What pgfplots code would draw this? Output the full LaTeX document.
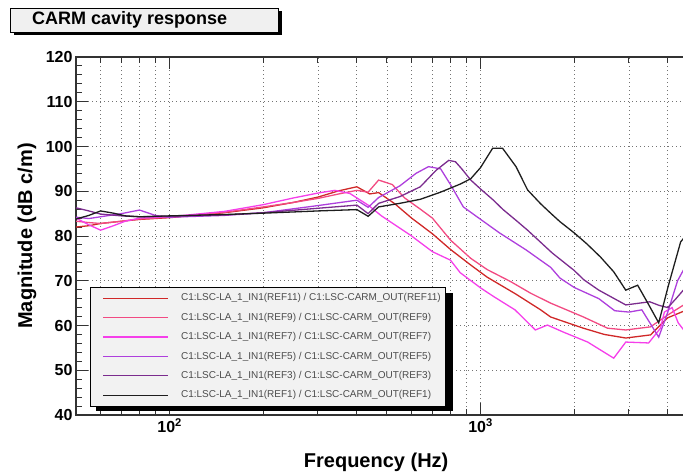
\documentclass[border=0pt]{standalone}
\usepackage{pgfplots}
\pgfplotsset{compat=1.18}
\usepackage{fontspec}
\setmainfont{Liberation Sans}
\usetikzlibrary{shadows}
\definecolor{cREF11}{HTML}{D02828}
\definecolor{cREF9}{HTML}{F24A82}
\definecolor{cREF7}{HTML}{F53FEA}
\definecolor{cREF5}{HTML}{AE3FDD}
\definecolor{cREF3}{HTML}{7B2C8E}
\definecolor{cREF1}{HTML}{1E1E1E}
\begin{document}
\begin{tikzpicture}
\begin{axis}[
  at={(0pt,0pt)}, anchor=south west,
  scale only axis, width=640pt, height=358pt,
  xmode=log, xmin=50, xmax=5716, ymin=40, ymax=120,
  xtick={100,1000}, xticklabels={10\textsuperscript{2},10\textsuperscript{3}},
  minor xtick={60,70,80,90,200,300,400,500,600,700,800,900,2000,3000,4000,5000},
  ytick={40,50,...,120}, yticklabels={40,50,60,70,80,90,100,110,120},
  minor ytick={42,44,...,118},
  ytick pos=left,
  xmajorgrids, xminorgrids, ymajorgrids,
  grid style={line width=0.9pt, black!55, dash pattern=on 1pt off 3pt},
  minor grid style={line width=0.9pt, black!55, dash pattern=on 1pt off 3pt},
  axis line style={line width=1.3pt, black!80},
  major tick length=12pt, minor tick length=6pt,
  every tick/.style={black!80, line width=1pt},
  tick label style={font=\bfseries\fontsize{16}{16}\selectfont},
  xlabel={Frequency (Hz)}, ylabel={Magnitude (dB c/m)},
  xlabel style={font=\bfseries\fontsize{20}{20}\selectfont, at={(axis description cs:0.469,-0.131)}, anchor=center},
  ylabel style={font=\bfseries\fontsize{20}{20}\selectfont, at={(axis description cs:-0.0766,0.5)}, anchor=center},
  every axis plot/.append style={line width=1.3pt, mark=none},
  legend cell align=left,
  legend image code/.code={\path[draw=none] (0pt,0pt) -- (73pt,0pt); \draw[#1, line width=1.3pt] (8pt,0pt) -- (73pt,0pt);},
  legend style={at={(axis description cs:0.0219,0.3575)}, anchor=north west,
    draw=black, line width=0.8pt, fill=black!5,
    font=\fontsize{10}{12}\selectfont, text=black!70,
    inner xsep=5pt, inner ysep=6pt, row sep=9.9pt,
    nodes={inner sep=0pt, text height=7.5pt, text depth=2pt},
    /tikz/every odd column/.append style={column sep=12pt}},
]
\addplot[cREF11] coordinates {(50,82.0)(55,82.3)(60,82.8)(70,83.3)(80,83.7)(100,84.1)(150,85.2)(200,86.3)(250,87.5)(300,88.7)(350,90.1)(400,91.0)(440,89.4)(470,89.7)(530,87.2)(600,84.0)(700,80.5)(800,77.0)(930,73.5)(1050,70.8)(1300,67.0)(1560,63.5)(1680,61.9)(2140,59.4)(2500,58.0)(2930,57.2)(3520,57.9)(3990,61.7)(4500,63.2)};
\addlegendentry{C1:LSC-LA\_1\_IN1(REF11) / C1:LSC-CARM\_OUT(REF11)}
\addplot[cREF9] coordinates {(50,83.3)(55,83.0)(60,82.8)(70,83.3)(80,83.8)(100,84.2)(150,85.3)(200,86.5)(250,87.5)(300,88.4)(350,89.4)(400,90.2)(435,89.8)(470,92.5)(520,91.5)(570,88.5)(640,86.0)(700,84.0)(800,79.1)(930,75.0)(1050,72.5)(1250,69.8)(1450,67.2)(1680,65.0)(2143,61.9)(2560,59.4)(2930,59.0)(3520,59.7)(3990,62.3)(4500,64.6)};
\addlegendentry{C1:LSC-LA\_1\_IN1(REF9) / C1:LSC-CARM\_OUT(REF9)}
\addplot[cREF7] coordinates {(50,84.0)(55,82.5)(60,81.3)(66,82.3)(72,83.3)(80,84.0)(100,84.3)(150,85.5)(200,87.0)(250,88.5)(300,89.6)(340,90.2)(380,89.5)(435,86.9)(480,84.5)(530,82.5)(600,80.0)(700,76.5)(800,74.6)(860,71.8)(1000,68.4)(1100,66.5)(1290,63.5)(1500,59.0)(1640,60.1)(1850,58.5)(2210,56.3)(2680,52.7)(2930,56.3)(3470,56.1)(3790,59.4)(3900,63.0)(4130,64.0)(4320,60.6)(4500,59.0)};
\addlegendentry{C1:LSC-LA\_1\_IN1(REF7) / C1:LSC-CARM\_OUT(REF7)}
\addplot[cREF5] coordinates {(50,84.2)(55,83.9)(60,84.3)(70,85.0)(80,85.8)(90,84.6)(100,84.2)(150,84.6)(200,85.2)(300,86.8)(400,88.0)(435,86.4)(470,88.6)(550,91.2)(620,94.0)(680,95.5)(744,95.0)(800,91.5)(880,86.5)(978,84.2)(1150,80.7)(1400,76.9)(1680,73.0)(1800,70.6)(2000,68.5)(2400,66.0)(2700,63.3)(3000,63.0)(3300,63.5)(3740,57.4)(4000,63.0)(4300,70.0)(4500,72.5)};
\addlegendentry{C1:LSC-LA\_1\_IN1(REF5) / C1:LSC-CARM\_OUT(REF5)}
\addplot[cREF3] coordinates {(50,86.3)(55,85.6)(60,84.9)(70,84.5)(80,84.3)(100,84.4)(150,84.7)(200,85.2)(300,86.2)(400,86.9)(435,85.0)(470,87.3)(550,88.8)(640,91.0)(720,94.7)(790,96.9)(830,96.6)(870,95.0)(930,92.5)(1000,90.5)(1100,88.0)(1177,86.0)(1300,83.5)(1416,81.3)(1700,76.2)(2000,72.3)(2150,70.2)(2400,67.9)(2930,64.6)(3500,65.3)(3750,64.5)(4000,64.0)(4250,66.0)(4500,68.0)};
\addlegendentry{C1:LSC-LA\_1\_IN1(REF3) / C1:LSC-CARM\_OUT(REF3)}
\addplot[cREF1] coordinates {(50,83.8)(55,84.6)(60,85.6)(66,85.1)(72,84.5)(80,84.3)(90,84.4)(100,84.5)(150,84.8)(200,85.1)(300,85.6)(400,85.9)(435,84.4)(470,86.5)(550,87.3)(640,88.2)(744,89.8)(860,91.6)(930,92.8)(1000,95.3)(1093,99.6)(1177,99.6)(1300,95.5)(1416,90.3)(1560,87.2)(1680,85.1)(1800,83.2)(2000,80.7)(2200,78.2)(2430,75.3)(2680,72.0)(2930,67.9)(3200,69.0)(3450,65.0)(3740,60.6)(4020,69.0)(4400,78.7)(4500,79.5)};
\addlegendentry{C1:LSC-LA\_1\_IN1(REF1) / C1:LSC-CARM\_OUT(REF1)}
\fill[black] (rel axis cs:0.03125,0.01117) rectangle (rel axis cs:0.5891,0.3408);
\end{axis}
\node[draw=black, line width=0.8pt, fill=black!6, minimum width=268pt, minimum height=24pt, inner sep=0pt, anchor=north west,
  drop shadow={shadow xshift=3.5pt, shadow yshift=-3pt, fill=black, opacity=1}] at (-66pt,407pt) {};
\node[anchor=west, inner sep=0pt, font=\bfseries\fontsize{18}{18}\selectfont] at (-44pt,395pt) {CARM cavity response};
\pgfresetboundingbox
\path[use as bounding box] (-76pt,-59pt) rectangle (607pt,415pt);
\end{tikzpicture}
\end{document}
